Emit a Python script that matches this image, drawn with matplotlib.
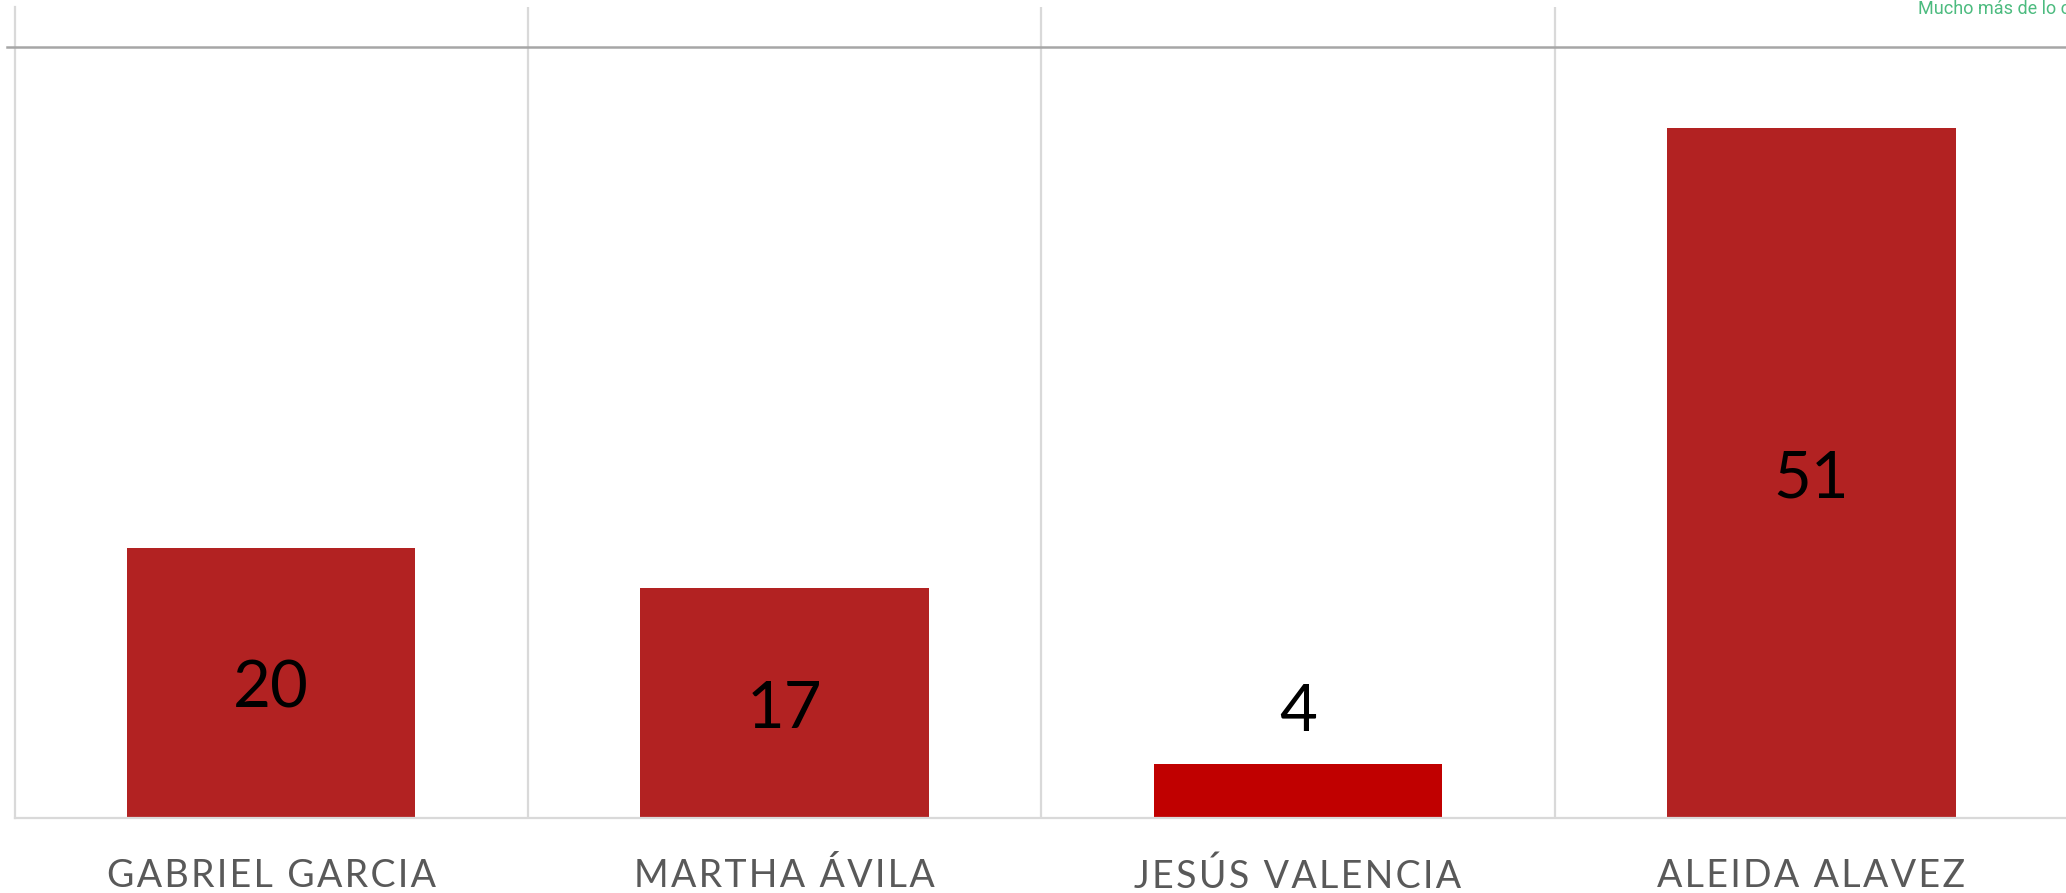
import matplotlib
matplotlib.use("Agg")
import matplotlib.pyplot as plt
from matplotlib.lines import Line2D

# Data
names = ['GABRIEL GARCIA', 'MARTHA ÁVILA', 'JESÚS VALENCIA', 'ALEIDA ALAVEZ']
votes = [20, 17, 4, 51]
bar_colors = ['#B22222', '#B22222', '#C00000', '#B22222']

plt.rcParams['font.family'] = ['Lato', 'DejaVu Sans']

fig = plt.figure(figsize=(20.66, 8.93), dpi=100)
ax = fig.add_axes([14.5 / 2066, 1 - 818 / 893, (2068 - 14.5) / 2066, (818 - 6.6) / 893])

x = list(range(len(names)))
bars = ax.bar(x, votes, width=0.562, color=bar_colors, zorder=2)

ax.set_xlim(-0.5, len(names) - 0.5)
ax.set_ylim(0, 60)

# value labels: inside the bar, or above it if the bar is too short
for xi, v in zip(x, votes):
    if v < 8:
        ax.text(xi, v + 3.8, str(v), ha='center', va='center', fontsize=47, color='black')
    else:
        ax.text(xi, v / 2 - 0.45, str(v), ha='center', va='center', fontsize=47, color='black')

# category labels with a bit of letter spacing
spaced = ['\u200a'.join(n) for n in names]
ax.set_xticks(x)
ax.set_xticklabels(spaced, fontsize=27, color='#595959')
ax.tick_params(axis='x', length=0, pad=29)
ax.set_yticks([])

# separators between categories
ax.set_xticks([i + 0.5 for i in x], minor=True)
ax.tick_params(axis='x', which='minor', length=0)
ax.grid(axis='x', which='minor', color='#D9D9D9', linewidth=1.6, zorder=0)

for s in ['top', 'right']:
    ax.spines[s].set_visible(False)
ax.spines['left'].set_color('#D9D9D9')
ax.spines['left'].set_linewidth(1.6)
ax.spines['bottom'].set_color('#D9D9D9')
ax.spines['bottom'].set_linewidth(1.6)

# header rule and caption (cut by the right edge, as in the original)
fig.add_artist(Line2D([7 / 2066, 1], [1 - 47 / 893, 1 - 47 / 893], color='#A6A6A6', linewidth=1.8))
fig.text(1918 / 2066, 1 - 9 / 893, 'Mucho más de lo c', fontsize=13, color='#4CBB7F',
         family=['Roboto', 'DejaVu Sans'], va='center', ha='left')

fig.savefig('out.png', dpi=100)
